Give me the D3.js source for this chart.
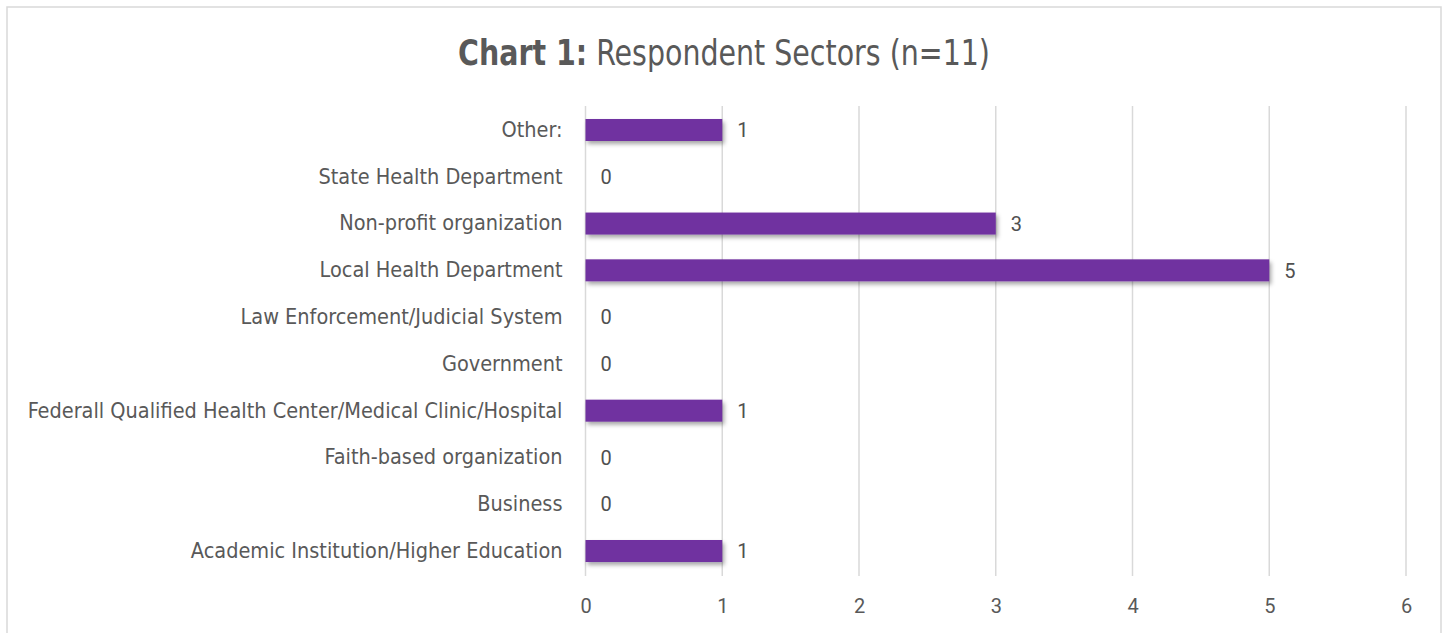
<!DOCTYPE html>
<html>
<head>
<meta charset="utf-8">
<script src="https://cdn.jsdelivr.net/npm/d3@7/dist/d3.min.js"></script>
<style>
  html, body { margin: 0; padding: 0; background: #fff; }
  svg { display: block; }
</style>
</head>
<body>
<svg id="chart" width="1447" height="633"></svg>
<script>
// Respondent sectors, listed top to bottom
const categories = [
  "Other:",
  "State Health Department",
  "Non-profit organization",
  "Local Health Department",
  "Law Enforcement/Judicial System",
  "Government",
  "Federall Qualified Health Center/Medical Clinic/Hospital",
  "Faith-based organization",
  "Business",
  "Academic Institution/Higher Education"
];
const counts = [1, 0, 3, 5, 0, 0, 1, 0, 0, 1];
const xTicks = [0, 1, 2, 3, 4, 5, 6];

const svg = d3.select("#chart");
const W = 1447, H = 633;
const narrow = "'DejaVu Sans Condensed', 'Liberation Sans Narrow', sans-serif";
const numFont = "Roboto, 'Open Sans', sans-serif";
const textColor = "#595959";

// Outer frame
svg.append("rect")
  .attr("x", 7).attr("y", 7)
  .attr("width", 1434).attr("height", H + 20)
  .attr("fill", "#fff")
  .attr("stroke", "#d9d9d9").attr("stroke-width", 1.5);

// Bar shadow
const defs = svg.append("defs");
const f = defs.append("filter").attr("id", "shadow")
  .attr("x", "-10%").attr("y", "-30%").attr("width", "130%").attr("height", "180%");
f.append("feDropShadow")
  .attr("dx", 2).attr("dy", 3).attr("stdDeviation", 2.2)
  .attr("flood-color", "#000").attr("flood-opacity", 0.35);

// Title, squeezed horizontally to a narrow face
const titleG = svg.append("g");
const title = titleG.append("text")
  .attr("x", 0).attr("y", 0)
  .attr("text-anchor", "middle")
  .attr("font-family", narrow)
  .attr("font-size", 35)
  .attr("fill", textColor);
title.append("tspan").attr("font-weight", "bold").text("Chart 1:");
title.append("tspan").text(" Respondent Sectors (n=11)");
const tw = title.node().getComputedTextLength();
const sx = Math.min(1, 532 / tw);
titleG.attr("transform", `translate(724,65) scale(${sx},1)`);

// Scales
const x = d3.scaleLinear().domain([0, 6]).range([585.5, 1406]);
const y = d3.scaleBand().domain(categories).range([106.6, 574.4]).paddingInner(0.53).paddingOuter(0.265);

// Vertical gridlines
svg.append("g")
  .selectAll("line")
  .data(xTicks)
  .join("line")
  .attr("x1", d => x(d)).attr("x2", d => x(d))
  .attr("y1", 106).attr("y2", 576)
  .attr("stroke", "#d9d9d9").attr("stroke-width", 1.5);

// X axis tick labels
const xAxis = d3.axisBottom(x).tickValues(xTicks).tickSize(0).tickPadding(0).tickFormat(d3.format("d"));
const gx = svg.append("g").attr("transform", "translate(0,599)").call(xAxis);
gx.select(".domain").remove();
gx.attr("font-family", numFont).attr("font-size", 20);
gx.selectAll("text").attr("fill", textColor);

// Y axis category labels
const yAxis = d3.axisLeft(y).tickSize(0).tickPadding(23);
const gy = svg.append("g").attr("transform", `translate(${x(0)},0)`).call(yAxis);
gy.select(".domain").remove();
gy.attr("font-family", narrow).attr("font-size", 21.5);
gy.selectAll("text").attr("fill", textColor);

// Bars
svg.append("g")
  .selectAll("rect")
  .data(categories.map((c, i) => ({ c, v: counts[i] })).filter(d => d.v > 0))
  .join("rect")
  .attr("x", x(0))
  .attr("y", d => y(d.c))
  .attr("width", d => x(d.v) - x(0))
  .attr("height", y.bandwidth())
  .attr("fill", "#7030A0")
  .attr("filter", "url(#shadow)");

// Value labels
svg.append("g")
  .selectAll("text")
  .data(categories.map((c, i) => ({ c, v: counts[i] })))
  .join("text")
  .attr("x", d => x(d.v) + 15)
  .attr("y", d => y(d.c) + y.bandwidth() / 2)
  .attr("dy", "0.36em")
  .attr("font-family", numFont)
  .attr("font-size", 20)
  .attr("fill", "#505050")
  .text(d => d.v);
</script>
</body>
</html>
